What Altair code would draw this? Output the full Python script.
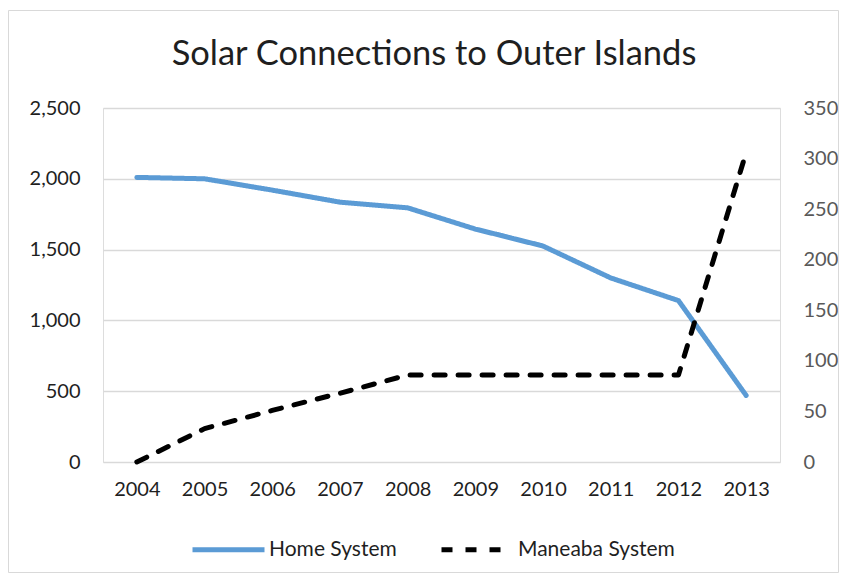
import altair as alt
import pandas as pd

years = ["2004", "2005", "2006", "2007", "2008", "2009", "2010", "2011", "2012", "2013"]
home_system = [2010, 2000, 1920, 1835, 1795, 1645, 1525, 1300, 1140, 470]
maneaba_system = [0, 33, 51, 68, 86, 86, 86, 86, 86, 306]
series_names = ["Home System", "Maneaba System"]
series_colors = ["#5B9BD5", "#000000"]
left_ticks = [0, 500, 1000, 1500, 2000, 2500]
right_ticks = [0, 50, 100, 150, 200, 250, 300, 350]
title_text = ["Solar Connections to Outer Islands"]

home_df = pd.DataFrame({"year": years, "value": home_system, "series": series_names[0]})
man_df = pd.DataFrame({"year": years, "value": maneaba_system, "series": series_names[1]})

FONT = "Lato"
DARK = "#1f1f1f"
GREY = "#595959"

x_enc = alt.X("year:O", title=None, sort=years,
              scale=alt.Scale(padding=0.5),
              axis=alt.Axis(labelAngle=0, labelFontSize=20, labelColor=DARK, labelFont=FONT,
                            ticks=False, domain=False, labelPadding=17))

color_enc = alt.Color("series:N",
                      scale=alt.Scale(domain=series_names, range=series_colors),
                      legend=alt.Legend(title=None, orient="none", direction="horizontal",
                                        legendX=87, legendY=403,
                                        symbolType="stroke", symbolSize=5184,
                                        symbolStrokeWidth=5, labelFontSize=21,
                                        labelFont=FONT, labelColor=DARK,
                                        labelOffset=2, columnPadding=34))
dash_enc = alt.StrokeDash("series:N",
                          scale=alt.Scale(domain=series_names, range=[[1, 0], [11, 13]]),
                          legend=alt.Legend(title=None))

home = alt.Chart(home_df).mark_line(strokeWidth=5, strokeCap="round", strokeJoin="round").encode(
    x=x_enc,
    y=alt.Y("value:Q", title=None,
            scale=alt.Scale(domain=[0, 2500], nice=False),
            axis=alt.Axis(values=left_ticks, format=",d", labelFontSize=20, labelColor=DARK,
                          labelFont=FONT, ticks=False, domain=False, labelPadding=23,
                          grid=True, gridColor="#d9d9d9", gridWidth=1.3)),
    color=color_enc,
    strokeDash=dash_enc,
)

maneaba = alt.Chart(man_df).mark_line(strokeWidth=5, strokeCap="round", strokeJoin="round").encode(
    x=x_enc,
    y=alt.Y("value:Q", title=None,
            scale=alt.Scale(domain=[0, 350], nice=False),
            axis=alt.Axis(orient="right", values=right_ticks, labelFontSize=20, labelColor=GREY,
                          labelFont=FONT, ticks=False, domain=False, labelPadding=23, grid=False)),
    color=color_enc,
    strokeDash=dash_enc,
)

border = alt.Chart(pd.DataFrame({"a": [0]})).mark_rect(
    fill="transparent", stroke="#d9d9d9", strokeWidth=1
).encode(
    x=alt.value(-94.5), x2=alt.value(735.5), y=alt.value(-97.5), y2=alt.value(464.5)
)

title = alt.Chart(pd.DataFrame({"t": title_text})).mark_text(
    font=FONT, fontSize=34.5, color=DARK, align="center", baseline="alphabetic"
).encode(
    text="t:N", x=alt.value(331), y=alt.value(-43)
)

chart = alt.layer(border, title, home, maneaba).resolve_scale(
    y="independent"
).properties(
    width=677, height=354,
    autosize=alt.AutoSizeParams(type="none"),
    padding={"left": 95, "top": 100, "right": 59, "bottom": 111},
).configure_view(stroke=None).configure(background="white")

chart.save("out.html", embed_options={"renderer": "svg", "actions": False})
